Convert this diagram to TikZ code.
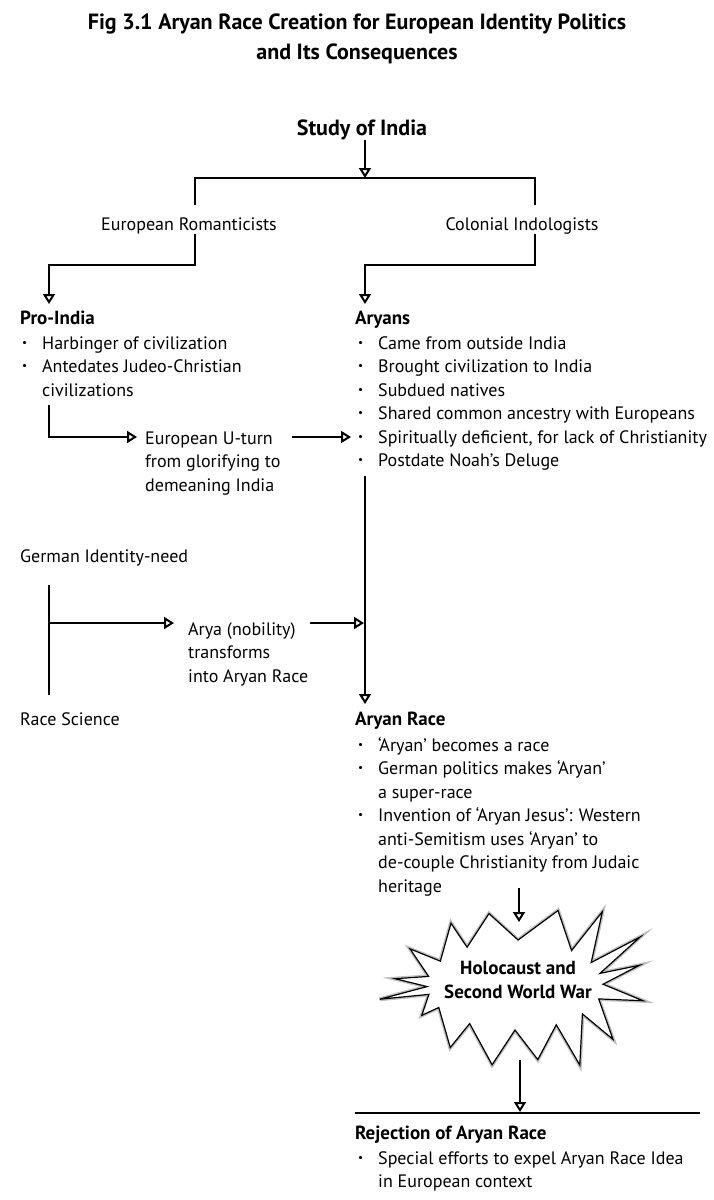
\documentclass[tikz,border=0pt]{standalone}
\usepackage{fontspec}
\usepackage{graphicx}
\setmainfont{PT Sans}
\usetikzlibrary{arrows.meta}
\newcommand{\bul}{\makebox[21pt][l]{\hspace{1pt}\raisebox{0.33ex}{\scalebox{0.62}{\textbullet}}}}
\newcommand{\ind}{\hspace*{21pt}}
\tikzset{
  txt/.style={font=\fontsize{18}{23.5}\selectfont, inner sep=0pt, anchor=base west},
  listst/.style={font=\fontsize{18}{23.5}\selectfont, align=left, inner sep=0pt, anchor=base west},
  headst/.style={font=\fontsize{19}{23.5}\selectfont\bfseries, inner sep=0pt, anchor=base west},
  titlest/.style={font=\fontsize{22}{30}\selectfont\bfseries, align=center, inner sep=0pt, anchor=base},
  studyst/.style={font=\fontsize{22}{24}\selectfont\bfseries, inner sep=0pt, anchor=base},
  holost/.style={font=\fontsize{19}{23.5}\selectfont\bfseries, align=center, inner sep=0pt},
  conn/.style={line width=2pt},
  arr/.style={conn, -{Triangle[open, length=10pt, width=12pt]}},
  burst/.style={line width=1.2pt, fill=white},
  burstshadow/.style={line width=4pt, draw=black!25},
}
\begin{document}
\begin{tikzpicture}[x=1pt,y=-1pt]
\useasboundingbox[fill=white] (0,0) rectangle (714,1200);

% title (base anchor = baseline of last line)
\node[titlest] (title) at (357,59) {Fig 3.1 Aryan Race Creation for European Identity Politics\\and Its Consequences};

% study of India
\node[studyst] (study) at (362,135) {Study of India};
\coordinate (split) at (365,178);
\coordinate (bl) at (195,205);
\coordinate (br) at (535,205);
\draw[arr] (study.south -| split) -- (split);
\draw[conn] (bl) |- (split) -| (br);

\node[txt, anchor=base] (rom) at (189,230) {European Romanticists};
\node[txt, anchor=base] (col) at (522,230) {Colonial Indologists};
\coordinate (pitip) at (49,304);
\coordinate (artip) at (365,304);
\draw[arr] (rom.south -| bl) -- ++(0,31) -| (pitip);
\draw[arr] (col.south -| br) -- ++(0,31) -| (artip);

% Pro-India
\node[headst] (pro) at (20,324) {Pro-India};
\node[listst] (prol) at (21,396) {\bul Harbinger of civilization\\
\bul Antedates Judeo-Christian\\
\ind civilizations};

% Aryans
\node[headst] (aryans) at (355,324) {Aryans};
\node[listst] (aryl) at (357,466.5) {\bul Came from outside India\\
\bul Brought civilization to India\\
\bul Subdued natives\\
\bul Shared common ancestry with Europeans\\
\bul Spiritually deficient, for lack of Christianity\\
\bul Postdate Noah’s Deluge};

% U-turn
\coordinate (utin) at (49,405);
\coordinate (uttip) at (137,437);
\draw[arr] (utin) |- (uttip);
\node[listst] (uturn) at (145,491) {European U-turn\\from glorifying to\\demeaning India};
\coordinate (utout) at (292,437);
\coordinate (artip2) at (351,437);
\draw[arr] (utout) -- (artip2);

% long vertical
\coordinate (lvtop) at (365,476);
\coordinate (racetip) at (365,704);
\draw[arr] (lvtop) -- (racetip);

% German identity need / race science
\node[txt] (german) at (20,562) {German Identity-need};
\coordinate (gtop) at (49,585);
\coordinate (gbot) at (49,695);
\coordinate (gv) at (49,623);
\draw[conn] (gtop) -- (gbot);
\coordinate (aryatip) at (174,623);
\draw[arr] (gv) -- (aryatip);
\node[listst] (arya) at (188,682) {Arya (nobility)\\transforms\\into Aryan Race};
\coordinate (aryaout) at (310,623);
\coordinate (lvtip) at (364,623);
\draw[arr] (aryaout) -- (lvtip);
\node[txt] (racesci) at (20,725) {Race Science};

% Aryan Race
\node[headst] (arace) at (355,725) {Aryan Race};
\node[listst] (racel) at (357,892) {\bul ‘Aryan’ becomes a race\\
\bul German politics makes ‘Aryan’\\
\ind a super-race\\
\bul Invention of ‘Aryan Jesus’: Western\\
\ind anti-Semitism uses ‘Aryan’ to\\
\ind de-couple Christianity from Judaic\\
\ind heritage};

% starburst
\begin{scope}[shift={(515,985)}]
\def\burstpath{(7:129) -- (18:88 and 45) -- (29:112) -- (40:88 and 45) -- (51:103) -- (62:88 and 45) -- (73:78) -- (90:88 and 45) -- (106:83) -- (121:88 and 45) -- (136:90) -- (150:88 and 45) -- (162:98) -- (168:88 and 45) -- (174:136) -- (178:88 and 45) -- (183:120) -- (191:88 and 45) -- (199:111) -- (212:88 and 45) -- (224:89) -- (237:88 and 45) -- (250:76) -- (272:88 and 45) -- (300:86) -- (310:88 and 45) -- (320:114) -- (330:88 and 45) -- (339:134) -- (345:88 and 45) -- (351:126) -- (359:88 and 45) -- cycle}
\draw[burstshadow] \burstpath;
\draw[burst] \burstpath;
\end{scope}
\node[holost] (holo) at (518,980) {Holocaust and\\Second World War};
\coordinate (sbin) at (519,888);
\coordinate (sbtop) at (519,922);
\draw[arr] (sbin) -- (sbtop);
\coordinate (sbout) at (520,1060);
\coordinate (rejtip) at (520,1112);
\draw[arr] (sbout) -- (rejtip);
\coordinate (rl) at (355,1113);
\coordinate (rr) at (700,1113);
\draw[conn] (rl) -- (rr);

% Rejection
\node[headst] (rej) at (355,1139) {Rejection of Aryan Race};
\node[listst] (rejl) at (357,1187.5) {\bul Special efforts to expel Aryan Race Idea\\
\ind in European context};
\end{tikzpicture}
\end{document}
